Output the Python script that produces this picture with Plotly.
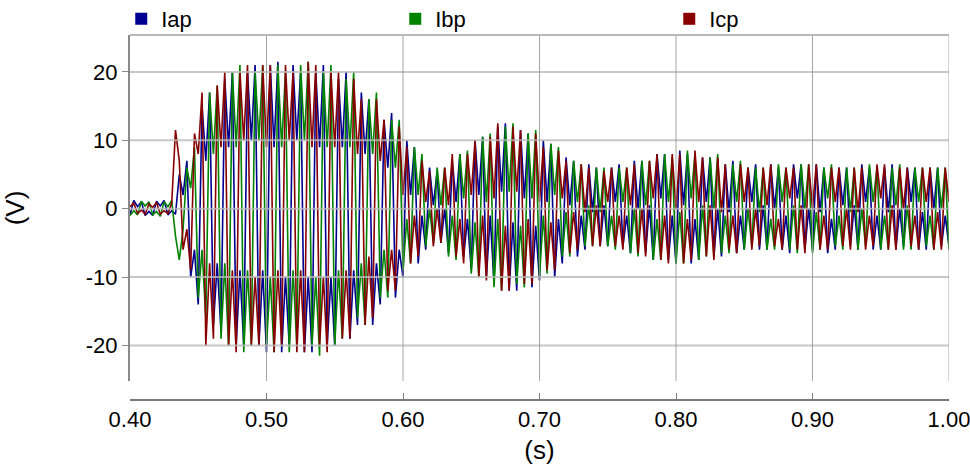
import numpy as np
import plotly.graph_objects as go

# ---- data ----
t_start = 0.40          # s, first sample
t_step = 1 / 360        # s, sample interval of the recorded waveform

# phase A current (blue)
iap = [
    -0.9, 1.2, 0.3, 1.0, -1.0, -0.4,
    -1.0, 1.1, 0.4, 1.2, -0.9, -0.3,
    -0.8, 5, 2, 7, -10, -6,
    -14, 15, 7, 17, -17, -8,
    -18, 19, 9, 20, -20, -9,
    -20, 20, 10, 21, -20, -9,
    -21, 21, 9, 21.5, -21, -10,
    -20, 21, 10, 20, -21, -10,
    -21, 20, 9, 21, -20, -10,
    -20, 19, 9, 20, -19, -9,
    -17, 17, 8, 16, -17, -8,
    -14, 13, 6, 14, -13, -6,
    -10, 10, 2, 9, -8, -1,
    -6, 6, 0.5, 5.5, -5, 0,
    -6.5, 7, 1, 8, -7, -1.5,
    -9, 10, 2, 10.5, -10, -1,
    -11, 12, 2.5, 12.5, -12, -2,
    -12, 11.5, 1.5, 11, -11.5, -2.5,
    -10.5, 10, 1, 9.5, -10, -1.5,
    -8, 7.5, 0.5, 7, -7, -1,
    -6, 6.5, -0.5, 6, -5.5, 0.5,
    -5.5, 6, 1, 6.5, -5.5, -1,
    -6.5, 7, 0, 7, -6.5, 0.5,
    -7.5, 8, 1.5, 8, -7.5, -1,
    -8, 8.5, 0.5, 8, -8, -1.5,
    -7.5, 7.5, 1, 7.5, -7, 0,
    -7, 6.5, -0.5, 7, -6.5, -1,
    -6, 6, 1, 6.5, -6, 0.5,
    -6, 6.5, 0, 6, -6, -1,
    -6.5, 6.5, 1.5, 6.5, -6, 0,
    -6, 6.5, -0.5, 6, -6.5, -1.5,
    -6, 6, 0.5, 6, -5.5, 0.5,
    -6, 6.5, 1, 6, -6, -1,
    -6, 6, -0.5, 6.5, -6, 0,
    -5.5, 6, 1, 6, -6, -0.5,
    -6, 6, 0, 6, -5.5, -1,
    -5.5,
]

# phase B current (green)
ibp = [
    -1.0, -0.3, -0.9, 1.1, 0.4, 1.0,
    -0.9, -0.4, -1.1, 1.0, 0.3, 1.2,
    -4, -7.5, -3, 6, 3, 9,
    -13, -6, -16, 17, 8, 18,
    -19, -8, -20, 20, 9, 21,
    -21, -9, -20, 20, 10, 21,
    -20, -10, -21, 21, 9, 20,
    -21, -9, -20, 21, 10, 21.5,
    -20, -10, -21.5, 20, 9, 21,
    -20, -9, -19, 19, 9, 20,
    -16, -8, -17, 16, 8, 17,
    -13, -6, -13, 13, 6, 13,
    -9, -1.5, -8, 9, 2, 8,
    -5.5, 0, -5, 6, 0.5, 6,
    -7, -1, -7.5, 8, 1.5, 8.5,
    -9.5, -2, -10, 10.5, 1, 11,
    -11.5, -1.5, -12, 12, 2.5, 12.5,
    -11, -2.5, -11.5, 11, 1.5, 11.5,
    -10, -1, -9.5, 9.5, 2, 9,
    -7, -0.5, -7, 7, 1, 6.5,
    -5.5, 0.5, -5.5, 6, -0.5, 6,
    -5.5, -1, -6, 6, 1, 6,
    -6.5, 0, -7, 7, 0.5, 7,
    -7.5, -1.5, -7.5, 8, 1, 7.5,
    -8, -0.5, -8, 8.5, 1.5, 8,
    -7.5, 0.5, -7, 7.5, 0, 8,
    -6.5, -1, -6.5, 6.5, 1, 7,
    -6, 0, -5.5, 6, -0.5, 6,
    -6, -1.5, -6, 6.5, 1, 6,
    -6, 0.5, -6.5, 6.5, 0, 6.5,
    -6.5, -0.5, -6, 6, 1.5, 6.5,
    -5.5, -1, -6, 6, -0.5, 6,
    -6, 0, -5.5, 6.5, 1, 6,
    -6, -1, -6, 6, 0.5, 6.5,
    -6, 0.5, -6, 6, 1, 6,
    -5.5, -1, -6, 6, 0, 6,
    -6,
]

# phase C current (red)
icp = [
    0.3, 0.8, -0.7, -0.2, -0.8, 0.7,
    0.2, 0.9, -0.8, -0.3, -0.7, 0.8,
    11.5, 7, -6, -3, -9, 11,
    8, 17, -20, -8, -19, 18,
    9, 20, -20, -9, -21, 20,
    10, 21, -20, -10, -20, 21,
    9, 21, -21, -9, -20, 21,
    10, 20, -21, -9, -21, 21.5,
    9, 21, -20, -10, -21, 20,
    9, 20, -19, -9, -19, 19,
    8, 16, -17, -7, -16, 16,
    7, 13, -12, -6, -12, 12,
    2, 9, -8, -1, -7, 7,
    1, 5.5, -5.5, 0, -5, 6,
    0.5, 8, -7, -1.5, -8, 8,
    2, 10, -10, -1, -10.5, 10.5,
    1.5, 12.5, -12, -2.5, -12, 12,
    2.5, 11.5, -11, -1.5, -11, 11,
    1, 9, -9, -2, -9, 8.5,
    1.5, 7, -6.5, -0.5, -6, 6.5,
    -0.5, 6, -5.5, 0.5, -5.5, 5.5,
    1, 6, -5.5, -1, -6, 6,
    0.5, 6.5, -6.5, 0, -7, 7,
    1.5, 8, -7.5, -1, -8, 8,
    0, 8, -8, -1.5, -7.5, 8.5,
    1, 7.5, -7, 0.5, -7.5, 7.5,
    -0.5, 6.5, -6, -1, -6.5, 6.5,
    1, 6, -6, 0, -5.5, 6,
    0.5, 6.5, -5.5, -1.5, -6, 6,
    1.5, 6, -6, 0.5, -6.5, 6.5,
    0, 6.5, -6, -1, -6, 6,
    1, 6, -5.5, 0, -6, 6,
    -0.5, 6, -6, -1, -5.5, 6.5,
    1.5, 6.5, -6, 0.5, -6, 6,
    0, 6, -5.5, -1, -6, 6,
    1, 6, -6, -0.5, -6, 6,
    1,
]

series_names = ["Iap", "Ibp", "Icp"]
series_colors = ["#000090", "#008400", "#880000"]

x_ticks = [0.40, 0.50, 0.60, 0.70, 0.80, 0.90, 1.00]
x_labels = ["0.40", "0.50", "0.60", "0.70", "0.80", "0.90", "1.00"]
y_ticks = [-20, -10, 0, 10, 20]
y_labels = ["-20", "-10", "0", "10", "20"]

# ---- figure ----
t = t_start + t_step * np.arange(len(iap))

fig = go.Figure()
for name, vals, col in zip(series_names, [iap, ibp, icp], series_colors):
    fig.add_trace(go.Scatter(x=t, y=vals, mode="lines", name=name,
                             line=dict(color=col, width=1.6),
                             showlegend=False, hoverinfo="skip"))
# legend swatches
for name, col in zip(series_names, series_colors):
    fig.add_trace(go.Scatter(x=[None], y=[None], mode="markers", name=name,
                             marker=dict(symbol="square", size=10, color=col),
                             showlegend=True))

# grid drawn above the traces, as in the reference
for v in y_ticks:
    fig.add_hline(y=v, line=dict(color="rgba(185,185,185,0.8)", width=2), layer="above")
for v in x_ticks[1:]:
    fig.add_vline(x=v, line=dict(color="rgba(150,150,150,0.85)", width=1), layer="above")
fig.add_shape(type="line", xref="x domain", yref="y domain", x0=0, x1=1, y0=1, y1=1,
              line=dict(color="rgba(185,185,185,1)", width=2), layer="above")

fig.update_layout(
    width=970, height=475,
    margin=dict(l=130, r=21, t=35, b=75, autoexpand=False),
    plot_bgcolor="white", paper_bgcolor="white",
    font=dict(family="Liberation Sans, Arial, sans-serif", size=22, color="black"),
    legend=dict(orientation="h", xref="container", yref="container",
                x=0.125, xanchor="left", y=0.96, yanchor="middle",
                entrywidth=229, entrywidthmode="pixels",
                font=dict(size=22), bgcolor="rgba(0,0,0,0)",
                itemsizing="constant"),
    xaxis=dict(range=[0.4, 1.0], tickvals=x_ticks, ticktext=x_labels,
               showgrid=False, zeroline=False, anchor="free", position=0,
               showline=True, linecolor="#7a7a7a", linewidth=2,
               ticks="inside", ticklen=6, tickcolor="#7a7a7a",
               automargin=False, ticklabeloverflow="allow",
               title=dict(text="(s)", standoff=8)),
    yaxis=dict(domain=[0.052, 1], range=[-25.2, 25.4], tickvals=y_ticks, ticktext=y_labels,
               showgrid=False, zeroline=False,
               showline=True, linecolor="#8a8a8a", linewidth=2,
               ticks="outside", ticklen=6, tickcolor="#8a8a8a",
               automargin=False,
               title=dict(text="(V)", standoff=55)),
)

fig.write_html("out.html", config={"displayModeBar": False},
               post_script="document.body.style.margin='0px';")
